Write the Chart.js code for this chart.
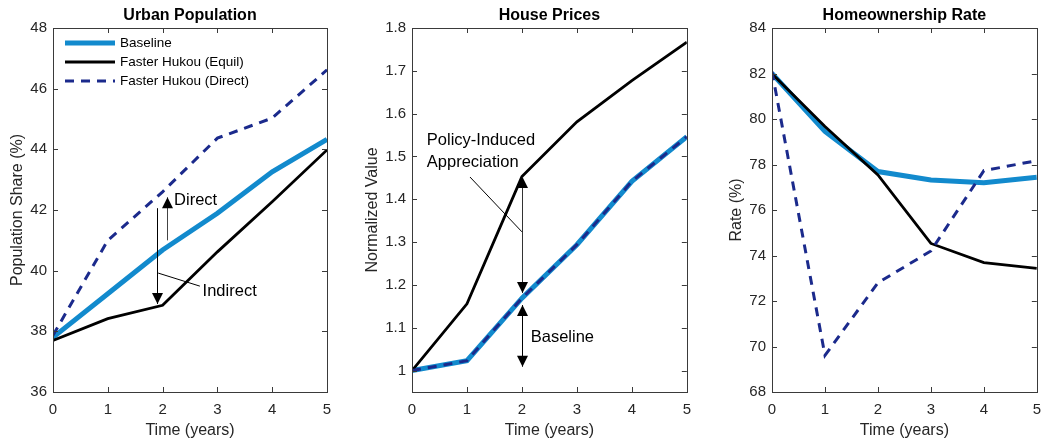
<!DOCTYPE html>
<html><head><meta charset="utf-8">
<script src="https://cdn.jsdelivr.net/npm/chart.js@4.4.1/dist/chart.umd.min.js"></script>
<style>
html,body{margin:0;padding:0;background:#fff;width:1050px;height:442px;overflow:hidden}
.p{position:absolute;top:0;width:350px;height:442px}
</style></head>
<body>
<div class="p" style="left:0"><canvas id="c1" width="350" height="442"></canvas></div>
<div class="p" style="left:350px"><canvas id="c2" width="350" height="442"></canvas></div>
<div class="p" style="left:700px"><canvas id="c3" width="350" height="442"></canvas></div>
<script>
// ---- data ----
const years = [0, 1, 2, 3, 4, 5];
const seriesNames = ['Baseline', 'Faster Hukou (Equil)', 'Faster Hukou (Direct)'];
const urbanBaseline = [37.80, 39.24, 40.68, 41.89, 43.26, 44.33];
const urbanEquil    = [37.70, 38.42, 38.86, 40.62, 42.27, 43.98];
const urbanDirect   = [37.87, 41.00, 42.60, 44.37, 45.03, 46.62];
const priceBaseline = [1.000, 1.023, 1.169, 1.294, 1.442, 1.546];
const priceEquil    = [1.000, 1.156, 1.453, 1.581, 1.677, 1.767];
const priceDirect   = [1.000, 1.023, 1.169, 1.294, 1.442, 1.546];
const ownBaseline   = [82.00, 79.45, 77.69, 77.32, 77.20, 77.44];
const ownEquil      = [81.99, 79.67, 77.54, 74.53, 73.69, 73.43];
const ownDirect     = [82.09, 69.61, 72.80, 74.20, 77.73, 78.17];
const xTicks = [0, 1, 2, 3, 4, 5];
const urbanTicks = [36, 38, 40, 42, 44, 46, 48];
const priceTicks = [1, 1.1, 1.2, 1.3, 1.4, 1.5, 1.6, 1.7, 1.8];
const ownTicks = [68, 70, 72, 74, 76, 78, 80, 82, 84];

// ---- style ----
const FONT = '"Liberation Sans", Arial, Helvetica, sans-serif';
const TXT = '#262626';
const BLUE = '#128ACD';
const NAVY = '#1B2A8C';
const BLACK = '#000000';
Chart.defaults.font.family = FONT;
Chart.defaults.color = TXT;

function pts(ys) { return years.map((x, i) => ({x: x, y: ys[i]})); }

function datasets(b, e, d) {
  return [
    {label: seriesNames[0], data: pts(b), borderColor: BLUE, borderWidth: 5, order: 3},
    {label: seriesNames[1], data: pts(e), borderColor: BLACK, borderWidth: 2.8, order: 2},
    {label: seriesNames[2], data: pts(d), borderColor: NAVY, borderWidth: 3, borderDash: [9, 7], order: 1}
  ].map(ds => Object.assign(ds, {pointRadius: 0, fill: false, tension: 0, borderCapStyle: 'butt', borderJoinStyle: 'miter'}));
}

function arrowHead(ctx, x, y, dir) { // dir=-1 tip pointing up, 1 pointing down
  ctx.beginPath();
  ctx.moveTo(x, y);
  ctx.lineTo(x - 5.5, y - dir * 11);
  ctx.lineTo(x + 5.5, y - dir * 11);
  ctx.closePath();
  ctx.fill();
}

function decoPlugin(title, yTickVals, legend, annot) {
  return {
    id: 'deco',
    afterDatasetsDraw(chart) {
      const ctx = chart.ctx, a = chart.chartArea;
      const xs = chart.scales.x, ys = chart.scales.y;
      ctx.save();
      // box
      ctx.strokeStyle = '#3a3a3a';
      ctx.lineWidth = 1;
      ctx.strokeRect(Math.round(a.left) + 0.5, Math.round(a.top) + 0.5, Math.round(a.right - a.left), Math.round(a.bottom - a.top));
      // inward ticks
      ctx.beginPath();
      xTicks.forEach(v => {
        const px = Math.round(xs.getPixelForValue(v)) + 0.5;
        ctx.moveTo(px, a.bottom); ctx.lineTo(px, a.bottom - 5);
        ctx.moveTo(px, a.top); ctx.lineTo(px, a.top + 5);
      });
      yTickVals.forEach(v => {
        const py = Math.round(ys.getPixelForValue(v)) + 0.5;
        ctx.moveTo(a.left, py); ctx.lineTo(a.left + 5, py);
        ctx.moveTo(a.right, py); ctx.lineTo(a.right - 5, py);
      });
      ctx.stroke();
      // title
      ctx.fillStyle = '#000';
      ctx.font = 'bold 16px ' + FONT;
      ctx.textAlign = 'center';
      ctx.textBaseline = 'middle';
      ctx.fillText(title, (a.left + a.right) / 2, 16);
      // legend
      if (legend) {
        ctx.textAlign = 'left';
        ctx.font = '13.5px ' + FONT;
        chart.data.datasets.forEach((ds, i) => {
          const yy = a.top + 15 + i * 19;
          ctx.save();
          ctx.strokeStyle = ds.borderColor;
          ctx.lineWidth = ds.borderWidth;
          ctx.setLineDash(ds.borderDash || []);
          ctx.beginPath();
          ctx.moveTo(a.left + 12, yy); ctx.lineTo(a.left + 62, yy);
          ctx.stroke();
          ctx.restore();
          ctx.fillStyle = '#000';
          ctx.fillText(ds.label, a.left + 67, yy + 0.5);
        });
      }
      // annotations
      if (annot) {
        ctx.fillStyle = '#000';
        ctx.strokeStyle = '#000';
        ctx.lineWidth = 1;
        (annot.arrows || []).forEach(ar => {
          const x = Math.round(xs.getPixelForValue(ar.x)) + 0.5;
          const y1 = ys.getPixelForValue(ar.from), y2 = ys.getPixelForValue(ar.to);
          ctx.strokeStyle = ar.color || '#000';
          ctx.beginPath(); ctx.moveTo(x, y1); ctx.lineTo(x, y2); ctx.stroke();
          const dir = y2 > y1 ? 1 : -1;
          arrowHead(ctx, x, y2, dir);
          if (ar.both) arrowHead(ctx, x, y1, -dir);
        });
        ctx.strokeStyle = '#000';
        (annot.lines || []).forEach(l => {
          ctx.beginPath();
          ctx.moveTo(xs.getPixelForValue(l.x1), ys.getPixelForValue(l.y1));
          ctx.lineTo(xs.getPixelForValue(l.x2), ys.getPixelForValue(l.y2));
          ctx.stroke();
        });
        ctx.font = '16.5px ' + FONT;
        ctx.textAlign = 'left';
        ctx.textBaseline = 'middle';
        (annot.texts || []).forEach(t => {
          ctx.fillText(t.text, xs.getPixelForValue(t.x), ys.getPixelForValue(t.y));
        });
      }
      ctx.restore();
    }
  };
}

function makeChart(id, cfg) {
  new Chart(document.getElementById(id), {
    type: 'line',
    data: {datasets: datasets(cfg.b, cfg.e, cfg.d)},
    plugins: [decoPlugin(cfg.title, cfg.yTicks, cfg.legend, cfg.annot)],
    options: {
      responsive: false,
      maintainAspectRatio: false,
      animation: false,
      devicePixelRatio: 1,
      layout: {padding: {left: 0, right: cfg.padRight, top: 28, bottom: 0}},
      plugins: {legend: {display: false}, tooltip: {enabled: false}, title: {display: false}},
      scales: {
        x: {
          type: 'linear', min: 0, max: 5,
          afterBuildTicks: s => { s.ticks = xTicks.map(v => ({value: v})); },
          afterFit: s => { s.height = 50; },
          grid: {display: false, drawTicks: false},
          border: {display: false},
          ticks: {padding: 9, font: {size: 15}, color: TXT, callback: v => String(v)},
          title: {display: true, text: 'Time (years)', font: {size: 16}, color: TXT, padding: {top: 0, bottom: 2}}
        },
        y: {
          type: 'linear', min: cfg.yMin, max: cfg.yMax,
          afterBuildTicks: s => { s.ticks = cfg.yTicks.map(v => ({value: v})); },
          afterFit: s => { s.width = cfg.yWidth; },
          grid: {display: false, drawTicks: false},
          border: {display: false},
          ticks: {padding: 6, font: {size: 15}, color: TXT, callback: v => String(+(+v).toFixed(2))},
          title: {display: true, text: cfg.yTitle, font: {size: 16}, color: TXT, padding: {top: cfg.yTitlePad, bottom: 0}}
        }
      }
    }
  });
}

makeChart('c1', {
  title: 'Urban Population', yTitle: 'Population Share (%)',
  b: urbanBaseline, e: urbanEquil, d: urbanDirect,
  yMin: 36, yMax: 48, yTicks: urbanTicks, yWidth: 53, yTitlePad: 8, padRight: 23, legend: true,
  annot: {
    arrows: [
      {x: 2.075, from: 41.0, to: 42.42, color: '#444'},
      {x: 1.89, from: 42.06, to: 38.9}
    ],
    lines: [{x1: 1.92, y1: 39.92, x2: 2.68, y2: 39.49}],
    texts: [{text: 'Direct', x: 2.21, y: 42.33}, {text: 'Indirect', x: 2.73, y: 39.33}]
  }
});

makeChart('c2', {
  title: 'House Prices', yTitle: 'Normalized Value',
  b: priceBaseline, e: priceEquil, d: priceDirect,
  yMin: 0.95, yMax: 1.8, yTicks: priceTicks, yWidth: 62, yTitlePad: 13, padRight: 13, legend: false,
  annot: {
    arrows: [
      {x: 2, from: 1.452, to: 1.181, both: true, color: '#333'},
      {x: 2, from: 1.153, to: 1.009, both: true}
    ],
    lines: [{x1: 1.055, y1: 1.452, x2: 2.0, y2: 1.324}],
    texts: [
      {text: 'Policy-Induced', x: 0.27, y: 1.538},
      {text: 'Appreciation', x: 0.27, y: 1.487},
      {text: 'Baseline', x: 2.16, y: 1.078}
    ]
  }
});

makeChart('c3', {
  title: 'Homeownership Rate', yTitle: 'Rate (%)',
  b: ownBaseline, e: ownEquil, d: ownDirect,
  yMin: 68, yMax: 84, yTicks: ownTicks, yWidth: 72, yTitlePad: 27, padRight: 4, legend: false,
  annot: null
});
</script>
</body></html>
